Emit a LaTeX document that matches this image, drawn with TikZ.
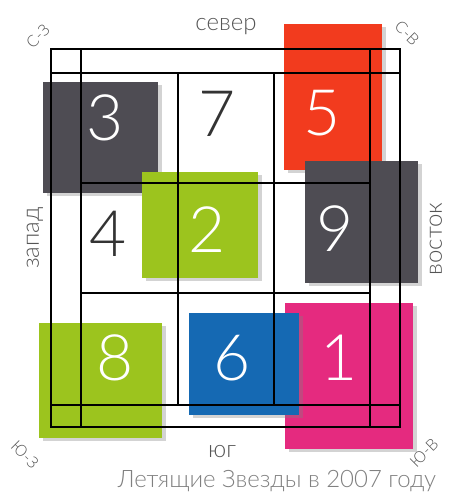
\documentclass[tikz,border=0pt]{standalone}
\usepackage{fontspec}
\setmainfont{Lato Light}
\usetikzlibrary{shadows}
\definecolor{sqgray}{HTML}{4E4C53}
\definecolor{sqred}{HTML}{F23B1E}
\definecolor{sqgreen}{HTML}{9CC41E}
\definecolor{sqblue}{HTML}{1569B3}
\definecolor{sqpink}{HTML}{E52A7F}
\definecolor{labgray}{HTML}{555555}
\definecolor{capgray}{HTML}{808080}
\definecolor{numdark}{HTML}{333333}
\begin{document}
\begin{tikzpicture}[x=1pt,y=-1pt,
  sq/.style={draw=none, inner sep=0pt, outer sep=0pt,
    drop shadow={shadow xshift=4pt, shadow yshift=-3pt, opacity=0.35}},
  num/.style={inner sep=0pt, font=\fontsize{64}{64}\selectfont, text=white},
  darknum/.style={num, text=numdark},
  lab/.style={inner sep=0pt, font=\fontsize{24}{24}\selectfont, text=labgray},
  corner/.style={inner sep=0pt, font=\fontsize{16}{16}\selectfont, text=labgray},
  captext/.style={inner sep=0pt, font=\fontsize{24}{24}\selectfont, text=capgray},
  gridline/.style={line width=1.5pt, black}]
\useasboundingbox (0,0) rectangle (448,494);
% coloured squares
\node[sq, fill=sqgray,  minimum width=115pt, minimum height=111pt] (s3) at (100.5,137.5) {};
\node[sq, fill=sqred,   minimum width=98pt,  minimum height=146pt] (s5) at (333,97) {};
\node[sq, fill=sqpink,  minimum width=128pt, minimum height=146pt] (s1) at (349,376) {};
\node[sq, fill=sqgreen, minimum width=116pt, minimum height=106pt] (s2) at (200,225) {};
\node[sq, fill=sqgray,  minimum width=113pt, minimum height=122pt] (s9) at (361.5,222) {};
\node[sq, fill=sqgreen, minimum width=123pt, minimum height=115pt] (s8) at (100.5,380.5) {};
\node[sq, fill=sqblue,  minimum width=110pt, minimum height=102pt] (s6) at (244,364) {};
% grid
\draw[gridline] (51,49) rectangle (400,427);
\draw[gridline] (81,49) -- (81,427);
\draw[gridline] (370,49) -- (370,427);
\draw[gridline] (51,73) -- (400,73);
\draw[gridline] (51,405) -- (400,405);
\draw[gridline] (178,73) -- (178,405);
\draw[gridline] (274,73) -- (274,405);
\draw[gridline] (81,183) -- (370,183);
\draw[gridline] (81,293) -- (370,293);
% numbers
\node[num] (n3) at (105,118) {3};
\node[darknum] (n7) at (217,114) {7};
\node[num] (n5) at (322,113) {5};
\node[darknum] (n4) at (108,234) {4};
\node[num] (n2) at (207,230) {2};
\node[num] (n9) at (335,229) {9};
\node[num] (n8) at (115,358) {8};
\node[num] (n6) at (232,358) {6};
\node[num] (n1) at (339,358) {1};
% labels
\node[lab] (north) at (226,27) {север};
\node[lab] (south) at (222,452) {юг};
\node[lab, rotate=90] (west) at (35,238) {запад};
\node[lab, rotate=90] (east) at (436,239) {восток};
\node[corner, rotate=45] (nw) at (38,36) {С-З};
\node[corner, rotate=-45] (ne) at (407,33) {С-В};
\node[corner, rotate=-45] (sw) at (25,455) {Ю-З};
\node[corner, rotate=45] (se) at (424,453) {Ю-В};
\node[captext] (caption) at (277,481) {Летящие Звезды в 2007 году};
\end{tikzpicture}
\end{document}
